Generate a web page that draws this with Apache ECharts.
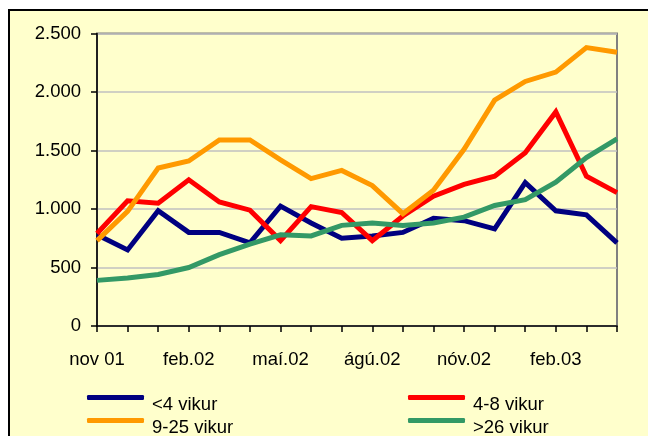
<!DOCTYPE html>
<html>
<head>
<meta charset="utf-8">
<script src="https://cdn.jsdelivr.net/npm/echarts@6/dist/echarts.min.js"></script>
<style>
  html, body { margin: 0; padding: 0; background: #fff; }
  #frame { position: absolute; left: 8px; top: 9px; width: 700px; height: 500px;
           background: #FFFFCC; border: 2px solid #000; }
  #chart { position: absolute; left: 0; top: 0; width: 648px; height: 436px; }
</style>
</head>
<body>
<div id="frame"></div>
<div id="chart"></div>
<script>
// mánuðir
const months = ['nov 01', 'des.01', 'jan.02', 'feb.02', 'mar.02', 'apr.02', 'maí.02', 'jún.02', 'júl.02',
  'ágú.02', 'sep.02', 'okt.02', 'nóv.02', 'des.02', 'jan.03', 'feb.03', 'mar.03', 'apr.03'];
const under4 = [780, 650, 985, 800, 800, 710, 1025, 880, 750, 770, 800, 920, 900, 830, 1225, 985, 950, 710];
const w4to8 = [790, 1070, 1050, 1250, 1060, 990, 730, 1020, 970, 730, 940, 1110, 1210, 1280, 1480, 1830, 1280, 1140];
const w9to25 = [730, 980, 1350, 1410, 1590, 1590, 1420, 1260, 1330, 1200, 960, 1160, 1510, 1930, 2090, 2170, 2380, 2340];
const over26 = [390, 410, 440, 500, 610, 700, 780, 770, 860, 880, 860, 880, 930, 1030, 1080, 1230, 1440, 1600];
const yTicks = [0, 500, 1000, 1500, 2000, 2500];

const seriesList = [
  { name: '<4 vikur', data: under4, color: '#000080' },
  { name: '4-8 vikur', data: w4to8, color: '#FF0000' },
  { name: '9-25 vikur', data: w9to25, color: '#FF9900' },
  { name: '>26 vikur', data: over26, color: '#339966' }
];

const font = 'Liberation Sans, Arial, sans-serif';
const fs = 18.5;

// legend positions (one legend per item so the 2x2 layout matches)
const legendPos = [
  { left: 87, top: 381 },
  { left: 408, top: 381 },
  { left: 87, top: 404 },
  { left: 408, top: 404 }
];

let myChart = echarts.init(document.getElementById('chart'));
myChart.setOption({
  animation: false,
  backgroundColor: 'transparent',
  textStyle: { fontFamily: font },
  grid: {
    left: 97, right: 31, top: 33.5, bottom: 110,
    show: true, borderColor: '#808080', borderWidth: 2, backgroundColor: 'transparent'
  },
  legend: seriesList.map((s, i) => ({
    data: [s.name],
    left: legendPos[i].left,
    top: legendPos[i].top,
    padding: 0,
    icon: 'roundRect',
    itemWidth: 57,
    itemHeight: 5,
    // texti liggur aðeins neðar en línan, eins og í Excel
    formatter: '{t|{name}}',
    textStyle: {
      fontFamily: font, fontSize: fs, color: '#000',
      rich: { t: { fontFamily: font, fontSize: fs, color: '#000', lineHeight: 20, padding: [14, 0, 0, 3] } }
    }
  })),
  xAxis: {
    type: 'category',
    data: months,
    boundaryGap: false,
    axisLine: { lineStyle: { color: '#000', width: 1.5 } },
    axisTick: { show: true, interval: 0, length: 6, lineStyle: { color: '#000', width: 1.5 } },
    axisLabel: { interval: 2, margin: 24, color: '#000', fontSize: fs, fontFamily: font, lineHeight: 19 },
    splitLine: { show: false }
  },
  yAxis: {
    type: 'value',
    min: yTicks[0],
    max: yTicks[yTicks.length - 1],
    interval: yTicks[1] - yTicks[0],
    axisLine: { show: true, lineStyle: { color: '#000', width: 1.5 } },
    axisTick: { show: true, length: 6, lineStyle: { color: '#000', width: 1.5 } },
    axisLabel: {
      margin: 16, color: '#000', fontSize: fs, fontFamily: font,
      formatter: v => String(v).replace(/\B(?=(\d{3})+(?!\d))/g, '.')
    },
    splitLine: { show: true, lineStyle: { color: '#C0C0C0', width: 1.5 } }
  },
  series: seriesList.map(s => ({
    name: s.name,
    type: 'line',
    data: s.data,
    showSymbol: false,
    symbol: 'none',
    color: s.color,
    lineStyle: { color: s.color, width: 5, join: 'miter' },
    itemStyle: { color: s.color }
  }))
});
</script>
</body>
</html>
